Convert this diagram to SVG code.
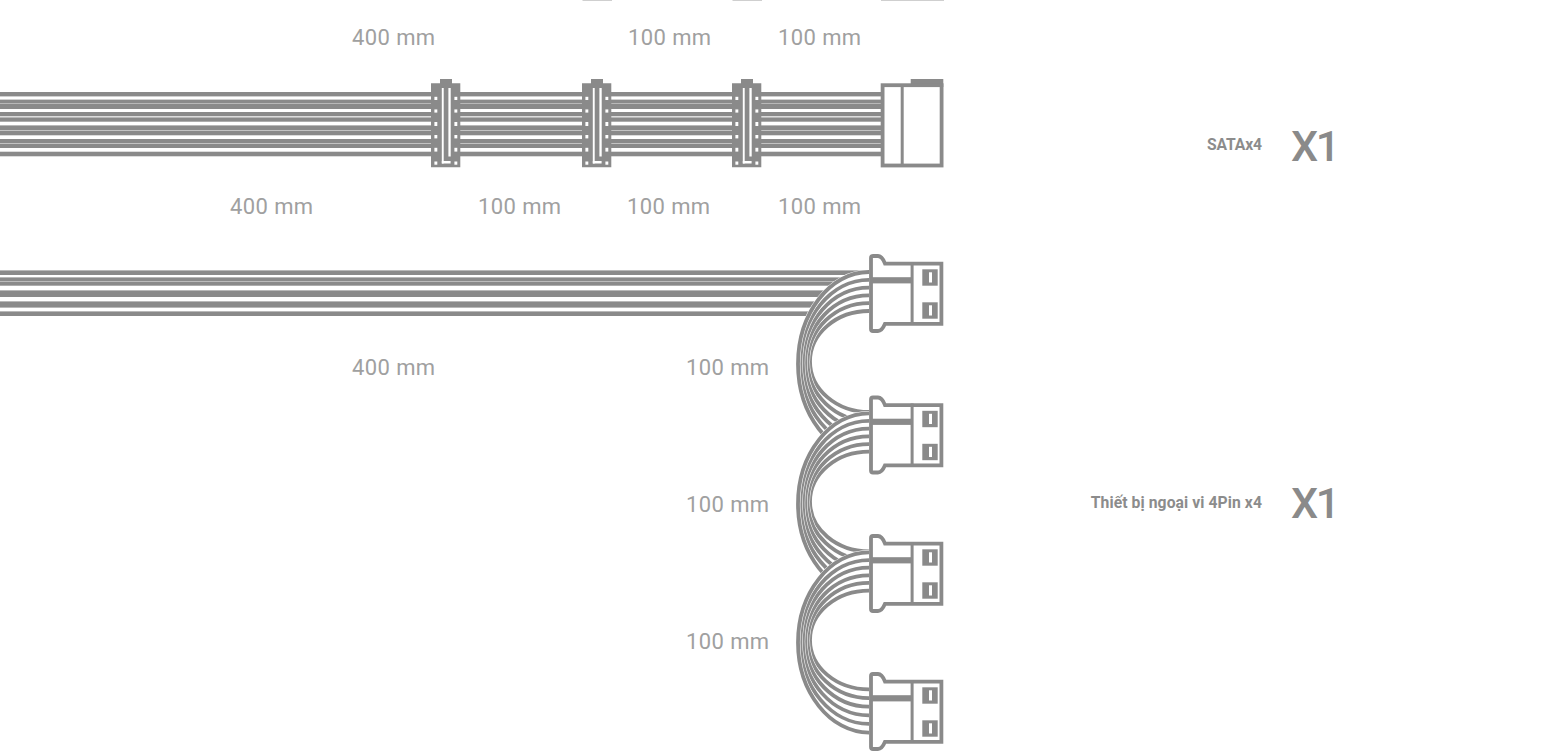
<svg xmlns="http://www.w3.org/2000/svg" width="1546" height="756" viewBox="0 0 1546 756">
<style>
.len{font-family:Roboto,"Liberation Sans",sans-serif;font-size:22px;letter-spacing:.4px;fill:#a0a0a0}
.lab{font-family:Roboto,"Liberation Sans",sans-serif;font-size:15.7px;font-weight:700;fill:#8c8c8c;text-anchor:end;letter-spacing:-.1px}
.lab2{letter-spacing:.08px}
.qty{font-family:Roboto,"Liberation Sans",sans-serif;font-size:43px;font-weight:500;fill:#8a8a8a;letter-spacing:-2.5px}
.bg{fill:#fff;stroke:none}
.c{fill:none;stroke:#fff;stroke-width:4.8}
.g{fill:none;stroke:#8a8a8a;stroke-width:3.8}
.band{fill:#8a8a8a}
.solid{fill:#8a8a8a}
.w{fill:#fff}
.edge{fill:#fff;stroke:#8a8a8a;stroke-width:3.8}
</style>
<defs>
<path id="w0" d="M869,272C830,272 798,313.4 798,364C798,414.6 830,456 869,456"/>
<path id="w1" d="M869,279.8C831.3,279.8 800.4,317.5 800.4,363.5C800.4,409.5 831.3,447.2 869,447.2"/>
<path id="w2" d="M869,287.6C832.6,287.6 802.8,321.5 802.8,363C802.8,404.5 832.6,438.4 869,438.4"/>
<path id="w3" d="M869,295.4C833.9,295.4 805.2,325.6 805.2,362.5C805.2,399.4 833.9,429.6 869,429.6"/>
<path id="w4" d="M869,303.2C835.2,303.2 807.6,329.7 807.6,362C807.6,394.3 835.2,420.8 869,420.8"/>
<path id="w5" d="M869,311C836.5,311 810,333.7 810,361.5C810,389.3 836.5,412 869,412"/>
<g id="fan">
<use href="#w0" class="bg"/>
<use href="#w5" class="c"/><use href="#w5" class="g"/>
<use href="#w4" class="c"/><use href="#w4" class="g"/>
<use href="#w3" class="c"/><use href="#w3" class="g"/>
<use href="#w2" class="c"/><use href="#w2" class="g"/>
<use href="#w1" class="c"/><use href="#w1" class="g"/>
<use href="#w0" class="c"/><use href="#w0" class="g"/>
</g>
<g id="clip">
<path class="solid" d="M431,83.3H440V79H452V83.3H460.3V167.3H431Z"/>
<rect class="w" x="441.8" y="88" width="1.9" height="75.5"/>
<rect class="w" x="441.8" y="161" width="8.8" height="2.5"/>
<rect class="w" x="448.4" y="88" width="2.3" height="68.5"/>
<g class="w">
<rect x="434.4" y="96.8" width="2.9" height="3.2"/><rect x="434.4" y="109.4" width="2.9" height="3.2"/><rect x="434.4" y="122" width="2.9" height="4"/><rect x="434.4" y="135" width="2.9" height="3.4"/><rect x="434.4" y="147.8" width="2.9" height="3.8"/><rect x="434.4" y="161.5" width="2.9" height="3.2"/>
<rect x="454.4" y="96.8" width="2.9" height="3.2"/><rect x="454.4" y="109.4" width="2.9" height="3.2"/><rect x="454.4" y="122" width="2.9" height="4"/><rect x="454.4" y="135" width="2.9" height="3.4"/><rect x="454.4" y="147.8" width="2.9" height="3.8"/><rect x="454.4" y="161.5" width="2.9" height="3.2"/>
</g>
</g>
<g id="molex">
<path class="edge" d="M871,263.6V258Q871,256 873,256H878Q882,256 885,263.6H941.4V323.8H885Q882,331 878,331H873Q871,331 871,329Z"/>
<rect class="solid" x="870" y="277.2" width="42" height="6.2"/>
<rect class="solid" x="910.6" y="262" width="3" height="62"/>
<rect class="solid" x="922.3" y="269.3" width="15.4" height="16.4"/>
<rect class="solid" x="922.3" y="302.3" width="15.4" height="16.4"/>
<rect class="w" x="929" y="272.3" width="3" height="10.2"/>
<rect class="w" x="929" y="305.3" width="3" height="10.2"/>
</g>
</defs>

<g id="connectors">
<g id="sata-cable">
<rect class="band" x="0" y="92" width="882" height="4.4"/>
<rect class="band" x="0" y="99.6" width="882" height="4"/>
<rect class="band" x="0" y="104" width="882" height="5"/>
<rect class="band" x="0" y="112" width="882" height="4.3"/>
<rect class="band" x="0" y="117.4" width="882" height="4.3"/>
<rect class="band" x="0" y="125.4" width="882" height="4.9"/>
<rect class="band" x="0" y="130.7" width="882" height="4.6"/>
<rect class="band" x="0" y="139" width="882" height="4.3"/>
<rect class="band" x="0" y="143.7" width="882" height="4.3"/>
<rect class="band" x="0" y="151.7" width="882" height="4.6"/>
</g>
<g id="periph-cable">
<rect class="band" x="0" y="270.4" width="869" height="4.6"/>
<rect class="band" x="0" y="277.4" width="869" height="4"/>
<rect class="band" x="0" y="281.7" width="869" height="4"/>
<rect class="band" x="0" y="290.4" width="869" height="6.6"/>
<rect class="band" x="0" y="301.4" width="869" height="6.2"/>
<rect class="band" x="0" y="311.4" width="869" height="4.6"/>
</g>
<use href="#fan"/>
<use href="#fan" transform="matrix(1 0 0 .986 0 145.1)"/>
<use href="#fan" transform="matrix(1 0 0 .979 0 286.1)"/>
</g>

<g id="cropped-top" fill="#cfcfcf">
<rect x="582.5" y="0" width="29.5" height="1"/>
<rect x="732.5" y="0" width="29.5" height="1"/>
<rect x="881" y="0" width="63" height="1"/>
</g>

<g id="sata-clip-1"><use href="#clip"/></g>
<g id="sata-clip-2"><use href="#clip" x="151"/></g>
<g id="sata-clip-3"><use href="#clip" x="301"/></g>
<g id="sata-end">
<path class="solid" d="M910.7,79H943.3V87H910.7Z"/>
<rect class="edge" x="882.6" y="85.2" width="59" height="80.3"/>
<rect class="solid" x="900.7" y="85" width="3" height="80"/>
</g>

<g id="molex-1"><use href="#molex"/></g>
<g id="molex-2"><use href="#molex" y="141.5"/></g>
<g id="molex-3"><use href="#molex" y="280"/></g>
<g id="molex-4"><use href="#molex" y="418"/></g>

<g id="lengths">
<text class="len" x="352" y="44.5">400 mm</text>
<text class="len" x="628" y="44.5">100 mm</text>
<text class="len" x="778" y="44.5">100 mm</text>
<text class="len" x="230" y="213.5">400 mm</text>
<text class="len" x="478" y="213.5">100 mm</text>
<text class="len" x="627" y="213.5">100 mm</text>
<text class="len" x="778" y="213.5">100 mm</text>
<text class="len" x="352" y="374.5">400 mm</text>
<text class="len" x="686" y="374.5">100 mm</text>
<text class="len" x="686" y="511.5">100 mm</text>
<text class="len" x="686" y="648.5">100 mm</text>
</g>
<g id="label-sata">
<text class="lab" x="1262" y="150">SATAx4</text>
<text class="qty" x="1291" y="161">X1</text>
</g>
<g id="label-periph">
<text class="lab lab2" x="1262" y="508">Thiết bị ngoại vi 4Pin x4</text>
<text class="qty" x="1291" y="518">X1</text>
</g>
</svg>
